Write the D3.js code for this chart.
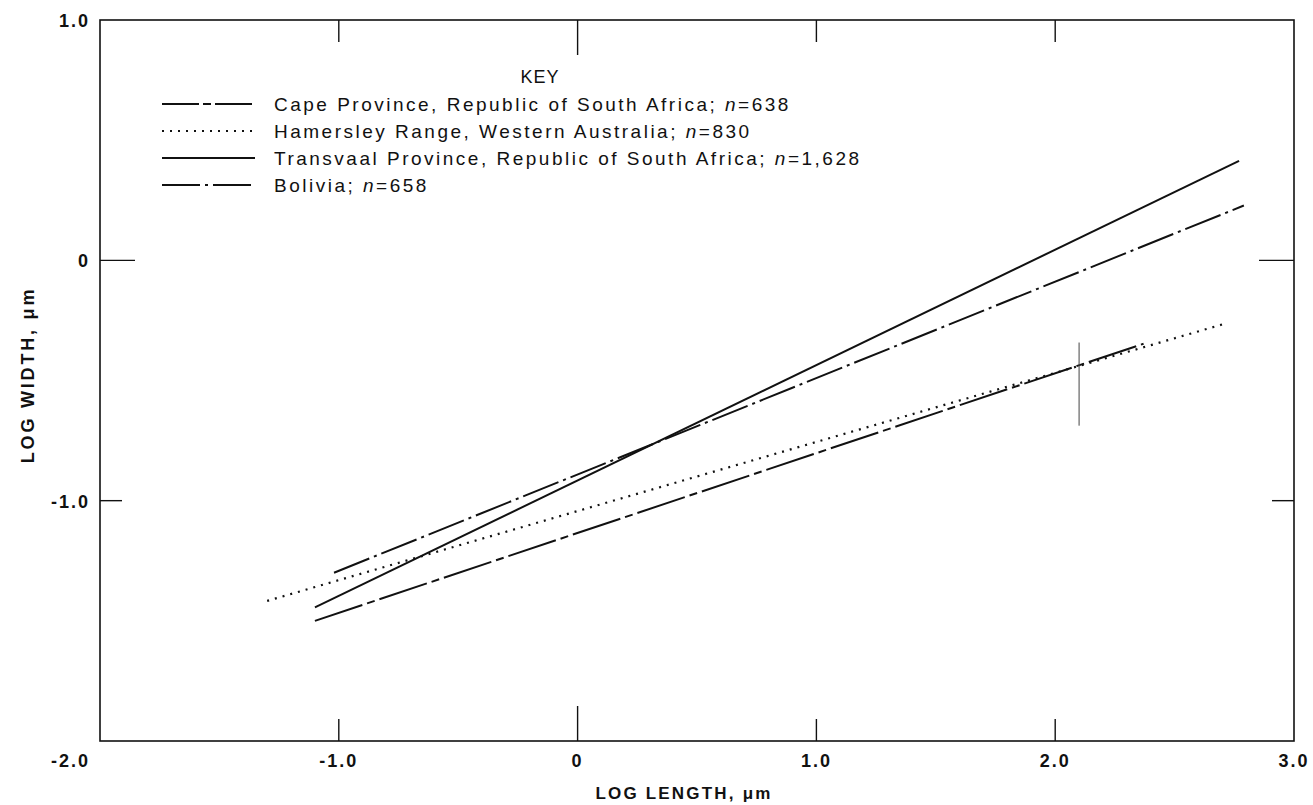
<!DOCTYPE html>
<html>
<head>
	<meta charset="utf-8">
	<title>Log width vs log length</title>
	<style>
		body { margin: 0; background: #fff; }
		text { font-family: "Liberation Sans", Arial, Helvetica, sans-serif; fill: #111; }
	</style>
</head>

<body>
	<script src="https://d3js.org/d3.v7.min.js" charset="utf-8"></script>
	<script>
// values (log length, log width)
var seriesNames = [
	'Cape Province, Republic of South Africa; ',
	'Hamersley Range, Western Australia; ',
	'Transvaal Province, Republic of South Africa; ',
	'Bolivia; '
];
var seriesCounts = ['638', '830', '1,628', '658'];
var capeLine = [[-1.10, -1.50], [2.37, -0.347]];
var hamersleyLine = [[-1.30, -1.417], [2.72, -0.261]];
var transvaalLine = [[-1.10, -1.444], [2.77, 0.414]];
var boliviaLine = [[-1.02, -1.30], [2.79, 0.228]];
var markLine = [[2.10, -0.342], [2.10, -0.688]];

var xTicks = [-1, 0, 1, 2, 3];
var xTickLabels = ['-1.0', '0', '1.0', '2.0', '3.0'];
var yTicks = [1, 0, -1];
var yTickLabels = ['1.0', '0', '-1.0'];
var innerTicks = [-1, 0, 1, 2];
var innerYTicks = [0, -1];

var lines = [capeLine, hamersleyLine, transvaalLine, boliviaLine];
var dashes = ['50,5,8,5', '2,6', null, '38,5,3,5'];

var svg = d3.select('body').append('svg')
			.attr('width', 1313)
			.attr('height', 805);

var x = d3.scaleLinear().domain([-2, 3]).range([100, 1294]);
var y = d3.scaleLinear().domain([-2, 1]).range([741, 20]);

function tickLen(v) { return v === 0 ? 35 : 22; }

// frame
svg.append('rect')
	.attr('x', x(-2)).attr('y', y(1))
	.attr('width', x(3) - x(-2)).attr('height', y(-2) - y(1))
	.attr('fill', 'none').attr('stroke', '#111').attr('stroke-width', 1.6);

// inward ticks
svg.selectAll('.ttop').data(innerTicks).enter().append('line')
	.attr('x1', function(d) { return x(d); }).attr('x2', function(d) { return x(d); })
	.attr('y1', y(1)).attr('y2', function(d) { return y(1) + tickLen(d); })
	.attr('stroke', '#111').attr('stroke-width', 1.4);
svg.selectAll('.tbot').data(innerTicks).enter().append('line')
	.attr('x1', function(d) { return x(d); }).attr('x2', function(d) { return x(d); })
	.attr('y1', y(-2)).attr('y2', function(d) { return y(-2) - tickLen(d); })
	.attr('stroke', '#111').attr('stroke-width', 1.4);
svg.selectAll('.tleft').data(innerYTicks).enter().append('line')
	.attr('x1', x(-2)).attr('x2', function(d) { return x(-2) + tickLen(d); })
	.attr('y1', function(d) { return y(d); }).attr('y2', function(d) { return y(d); })
	.attr('stroke', '#111').attr('stroke-width', 1.4);
svg.selectAll('.tright').data(innerYTicks).enter().append('line')
	.attr('x1', x(3)).attr('x2', function(d) { return x(3) - tickLen(d); })
	.attr('y1', function(d) { return y(d); }).attr('y2', function(d) { return y(d); })
	.attr('stroke', '#111').attr('stroke-width', 1.4);

// tick labels
svg.selectAll('.xl').data(xTicks).enter().append('text')
	.attr('x', function(d) { return x(d); })
	.attr('y', 767)
	.attr('text-anchor', 'middle')
	.attr('font-size', 18).attr('font-weight', 'bold').attr('letter-spacing', 2)
	.text(function(d, i) { return xTickLabels[i]; });
svg.append('text')
	.attr('x', x(-2) - 10).attr('y', 767)
	.attr('text-anchor', 'end')
	.attr('font-size', 18).attr('font-weight', 'bold').attr('letter-spacing', 2)
	.text('-2.0');
svg.selectAll('.yl').data(yTicks).enter().append('text')
	.attr('x', x(-2) - 10)
	.attr('y', function(d) { return y(d) + 7; })
	.attr('text-anchor', 'end')
	.attr('font-size', 18).attr('font-weight', 'bold').attr('letter-spacing', 2)
	.text(function(d, i) { return yTickLabels[i]; });

// axis titles
svg.append('text')
	.attr('x', 684).attr('y', 799)
	.attr('text-anchor', 'middle')
	.attr('font-size', 17).attr('font-weight', 'bold').attr('letter-spacing', 2.2)
	.text('LOG LENGTH, \u03bcm');
svg.append('text')
	.attr('transform', 'translate(34,375) rotate(-90)')
	.attr('text-anchor', 'middle')
	.attr('font-size', 18).attr('font-weight', 'bold').attr('letter-spacing', 2.8)
	.text('LOG WIDTH, \u03bcm');

// regression lines
var line = d3.line()
	.x(function(d) { return x(d[0]); })
	.y(function(d) { return y(d[1]); });

svg.selectAll('.series').data(lines).enter().append('path')
	.attr('d', line)
	.attr('fill', 'none')
	.attr('stroke', '#111')
	.attr('stroke-width', function(d, i) { return i === 1 ? 2.2 : 2; })
	.attr('stroke-dasharray', function(d, i) { return dashes[i]; });

svg.append('path')
	.attr('d', line(markLine))
	.attr('stroke', '#444').attr('stroke-width', 1);

// key
svg.append('text')
	.attr('x', 540).attr('y', 83)
	.attr('text-anchor', 'middle')
	.attr('font-size', 18).attr('letter-spacing', 1)
	.text('KEY');

var rowY = [104, 131, 158, 185];
var keyRows = svg.selectAll('.key').data(seriesNames).enter().append('g')
	.attr('transform', function(d, i) { return 'translate(0,' + rowY[i] + ')'; });

keyRows.append('line')
	.attr('x1', 162).attr('x2', 255)
	.attr('y1', 0).attr('y2', 0)
	.attr('stroke', '#111').attr('stroke-width', 2)
	.attr('stroke-dasharray', function(d, i) { return i === 0 ? '37,4,8,4' : dashes[i]; });

var keyText = keyRows.append('text')
	.attr('x', 274).attr('y', 7)
	.attr('font-size', 19).attr('letter-spacing', 2.5);
keyText.append('tspan').text(function(d) { return d; });
keyText.append('tspan').attr('font-style', 'italic').text('n');
keyText.append('tspan').text(function(d, i) { return '=' + seriesCounts[i]; });

	</script>
</body>
</html>
